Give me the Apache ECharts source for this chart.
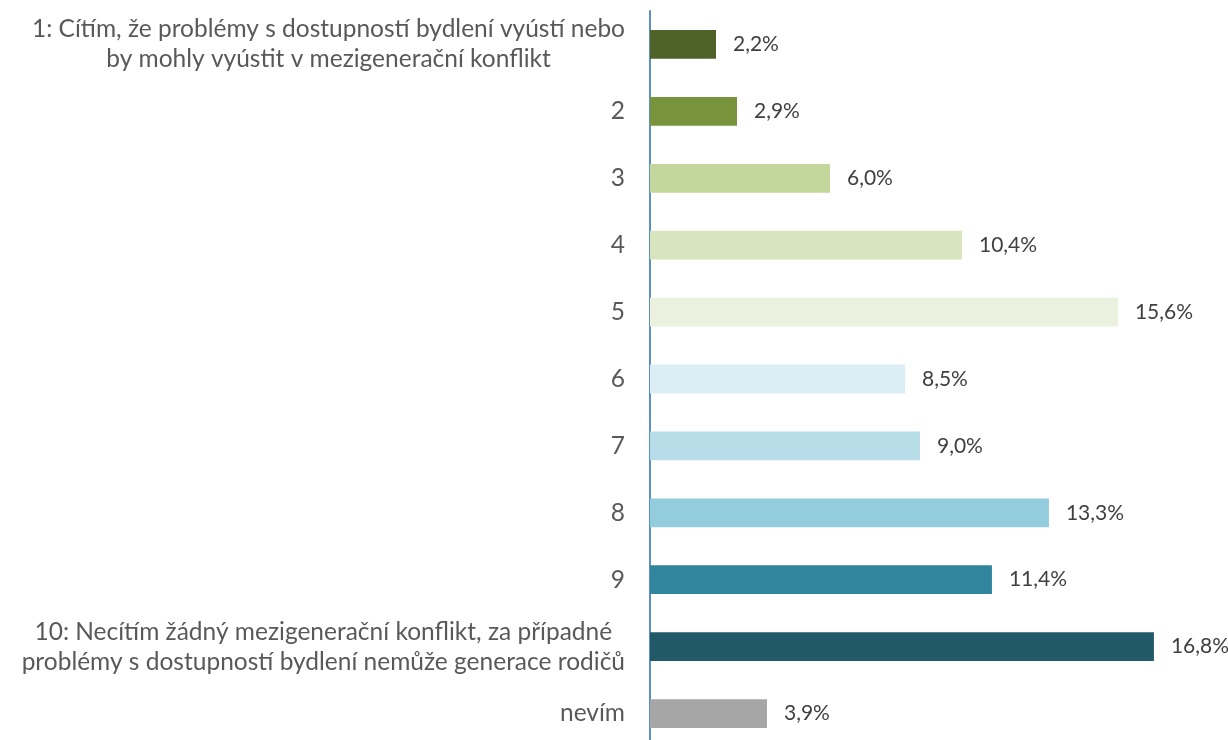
<!DOCTYPE html>
<html>
<head>
<meta charset="utf-8">
<script src="https://cdn.jsdelivr.net/npm/echarts@6/dist/echarts.min.js"></script>
<style>
	html, body { margin: 0; padding: 0; background: #fff; }
	#chart { width: 1228px; height: 740px; }
</style>
</head>
<body>
<div id="chart"></div>
<script>
// answer categories, top to bottom
const categories = [
	'1: Cítím, že problémy s dostupností bydlení vyústí nebo\nby mohly vyústit v mezigenerační konflikt',
	'2', '3', '4', '5', '6', '7', '8', '9',
	'10: Necítím žádný mezigenerační konflikt, za případné\nproblémy s dostupností bydlení nemůže generace rodičů',
	'nevím'
];
const values = [2.2, 2.9, 6.0, 10.4, 15.6, 8.5, 9.0, 13.3, 11.4, 16.8, 3.9];
const barColors = ['#4F6228', '#77933C', '#C3D69B', '#D7E4BD', '#EBF1DE', '#DBEEF4',
	'#B7DEE8', '#93CDDD', '#31859C', '#215968', '#A6A6A6'];

const font = 'Lato, "Open Sans", sans-serif';
let chart = echarts.init(document.getElementById('chart'));

chart.setOption({
	animation: false,
	grid: {
		left: 650,
		right: 0,
		top: 11,
		height: 736,
		containLabel: false,
		outerBoundsMode: 'none'
	},
	xAxis: {
		type: 'value',
		min: 0,
		max: 19.27,
		show: false
	},
	yAxis: {
		type: 'category',
		inverse: true,
		data: categories,
		axisLine: { show: true, lineStyle: { color: '#5B8FC7', width: 2 } },
		axisTick: { show: false },
		axisLabel: {
			margin: 25,
			fontFamily: font,
			fontSize: 24.5,
			color: '#595959',
			lineHeight: 30,
			formatter: v => v.split('\n').map(s => '{c|' + s + '}').join('\n'),
			rich: {
				c: { align: 'center', fontFamily: font, fontSize: 24.5, color: '#595959', lineHeight: 30 }
			}
		}
	},
	series: [{
		type: 'bar',
		data: values.map((v, i) => ({ value: v, itemStyle: { color: barColors[i] } })),
		barWidth: '43%',
		label: {
			show: true,
			position: 'right',
			distance: 17,
			fontFamily: font,
			fontSize: 21,
			color: '#404040',
			formatter: p => p.value.toFixed(1).replace('.', ',') + '%'
		}
	}]
});
</script>
</body>
</html>
